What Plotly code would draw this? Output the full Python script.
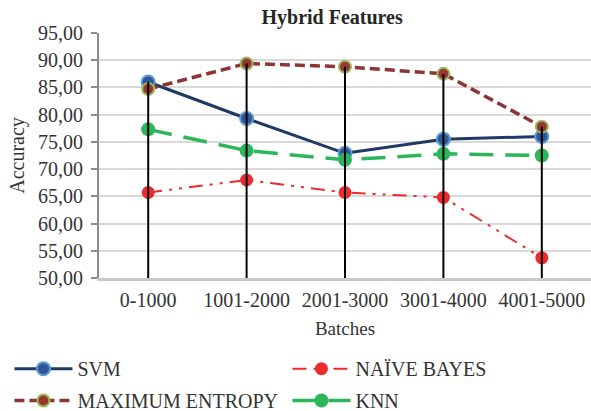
import plotly.graph_objects as go

batches = ["0-1000", "1001-2000", "2001-3000", "3001-4000", "4001-5000"]
svm = [86.0, 79.3, 72.9, 75.5, 76.0]
naive_bayes = [65.7, 68.0, 65.7, 64.8, 53.7]
max_entropy = [84.7, 89.4, 88.8, 87.5, 77.8]
knn = [77.3, 73.4, 71.7, 72.8, 72.5]
y_ticks = [50, 55, 60, 65, 70, 75, 80, 85, 90, 95]

FONT = "Liberation Serif"
TXT = "#333333"
fig = go.Figure()

fig.add_trace(go.Scatter(
    x=batches, y=svm, name="SVM", mode="lines+markers",
    line=dict(color="#1f3864", width=3),
    marker=dict(size=13, color="#2f5597", line=dict(color="#5b9bd5", width=2)),
    legend="legend"))
fig.add_trace(go.Scatter(
    x=batches, y=naive_bayes, name="NAÏVE BAYES", mode="lines+markers",
    line=dict(color="#ee2b2b", width=2, dash="14px,7px,3px,7px,3px,7px"),
    marker=dict(size=13, color="#ee2b2b"),
    legend="legend"))
fig.add_trace(go.Scatter(
    x=batches, y=max_entropy, name="MAXIMUM ENTROPY", mode="lines+markers",
    line=dict(color="#8e3434", width=3.5, dash="10px,5px"),
    marker=dict(size=12, color="#953735", line=dict(color="#9bbb59", width=2)),
    legend="legend2"))
fig.add_trace(go.Scatter(
    x=batches, y=knn, name="KNN", mode="lines+markers",
    line=dict(color="#2db55a", width=3.5, dash="24px,12px"),
    marker=dict(size=14, color="#2db55a"),
    legend="legend2"))

# drop lines from the highest point of each category down to the axis
drop_x, drop_y = [], []
for i, b in enumerate(batches):
    top = max(svm[i], naive_bayes[i], max_entropy[i], knn[i])
    drop_x += [b, b, None]
    drop_y += [top, y_ticks[0], None]
fig.add_trace(go.Scatter(
    x=drop_x, y=drop_y, mode="lines", showlegend=False,
    line=dict(color="black", width=2), hoverinfo="skip"))

legend_common = dict(
    orientation="h", xanchor="left", yanchor="middle",
    font=dict(family=FONT, size=20, color=TXT),
    entrywidthmode="pixels", entrywidth=205, itemwidth=58,
    bgcolor="rgba(0,0,0,0)", traceorder="normal")

fig.update_layout(
    width=591, height=411,
    margin=dict(l=99, r=0, t=33, b=133, autoexpand=False),
    paper_bgcolor="white", plot_bgcolor="white",
    separators=",.",
    title=dict(text="<b>Hybrid Features</b>", x=0.562, xref="container", xanchor="center",
               y=0.958, yref="container", yanchor="middle",
               font=dict(family=FONT, size=20, color="#262626")),
    legend=dict(x=-0.182, y=-0.37, **legend_common),
    legend2=dict(x=-0.182, y=-0.50, **legend_common),
    xaxis=dict(
        type="category", categoryorder="array", categoryarray=batches,
        showgrid=False, showline=True, linecolor="#c9c9c9", linewidth=3,
        ticks="", tickfont=dict(family=FONT, size=20, color=TXT),
        ticklabelstandoff=2,
        title=dict(text="Batches", font=dict(family=FONT, size=19, color=TXT), standoff=12),
        range=[-0.5, 4.5], zeroline=False, automargin=False),
    yaxis=dict(
        range=[50, 95], tickvals=y_ticks, tickformat=".2f",
        showgrid=True, gridcolor="#d9d9d9", gridwidth=1.5,
        showline=True, linecolor="#8c8c8c", linewidth=2,
        ticks="outside", ticklen=6, tickcolor="#8c8c8c", tickwidth=2,
        ticklabelstandoff=4,
        tickfont=dict(family=FONT, size=20, color=TXT),
        title=dict(text="Accuracy", font=dict(family=FONT, size=20, color=TXT), standoff=8),
        zeroline=False, automargin=False),
)

fig.write_html("out.html", config={"displayModeBar": False},
               post_script="document.body.style.margin='0';document.body.style.overflow='hidden';")
